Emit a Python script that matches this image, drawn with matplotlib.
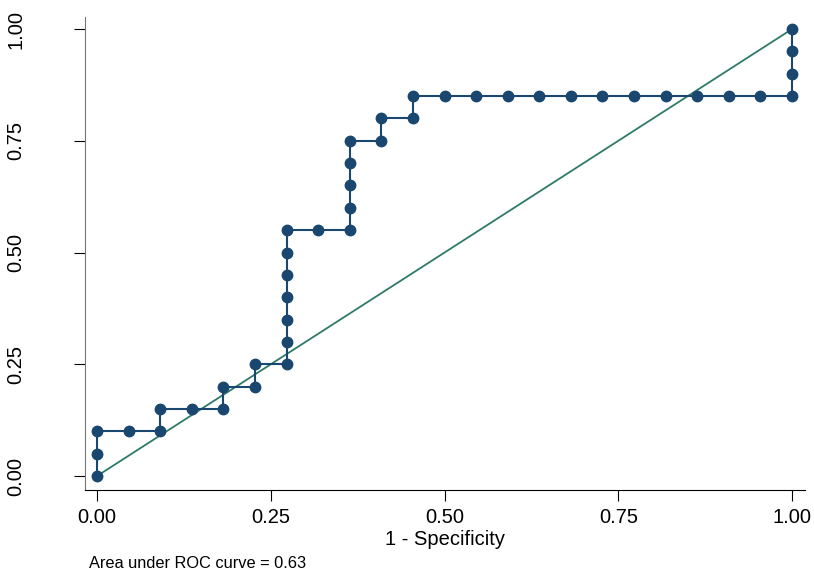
import matplotlib
matplotlib.use('Agg')
import matplotlib.pyplot as plt

# ROC points: 22 negatives, 20 positives
fpr = [0, 0, 0, 1, 2, 2, 3, 4, 4, 5, 5, 6, 6, 6, 6, 6, 6, 6, 7, 8, 8, 8, 8, 8,
       9, 9, 10, 10, 11, 12, 13, 14, 15, 16, 17, 18, 19, 20, 21, 22, 22, 22, 22]
tpr = [0, 1, 2, 2, 2, 3, 3, 3, 4, 4, 5, 5, 6, 7, 8, 9, 10, 11, 11, 11, 12, 13, 14, 15,
       15, 16, 16, 17, 17, 17, 17, 17, 17, 17, 17, 17, 17, 17, 17, 17, 18, 19, 20]
n_neg = 22
n_pos = 20
auc = 0.63

x = [v / n_neg for v in fpr]
y = [v / n_pos for v in tpr]

plt.rcParams['font.family'] = ['Liberation Sans', 'DejaVu Sans']

fig = plt.figure(figsize=(8.14, 5.74), dpi=100)
ax = fig.add_axes([0.1044, 0.1463, 0.8846, 0.8241])

navy = '#1a476f'
green = '#2e7a68'

ax.plot([0, 1], [0, 1], color=green, lw=1.3, zorder=2)
ax.plot(x, y, color=navy, lw=1.5, marker='o', markersize=7.5, zorder=3)

ax.set_xlim(-0.0173, 1.0187)
ax.set_ylim(-0.0313, 1.027)

ticks = [0, 0.25, 0.5, 0.75, 1.0]
ax.set_xticks(ticks)
ax.set_yticks(ticks)
ax.set_xticklabels(['0.00', '0.25', '0.50', '0.75', '1.00'], fontsize=14.5)
ax.set_yticklabels(['0.00', '0.25', '0.50', '0.75', '1.00'], fontsize=14.5,
                   rotation=90, va='center')
ax.tick_params(direction='out', length=8, width=0.8)
ax.tick_params(axis='x', pad=5)
ax.tick_params(axis='y', pad=35)

ax.spines['top'].set_visible(False)
ax.spines['right'].set_visible(False)
ax.spines['left'].set_color('#777777')
ax.spines['bottom'].set_color('black')

ax.set_xlabel('1 - Specificity', fontsize=14.5, labelpad=2)

fig.text(89 / 814, 1 - 563 / 574, 'Area under ROC curve = %.2f' % auc,
         fontsize=11.8, va='center', ha='left')

fig.savefig('out.png', dpi=100)
